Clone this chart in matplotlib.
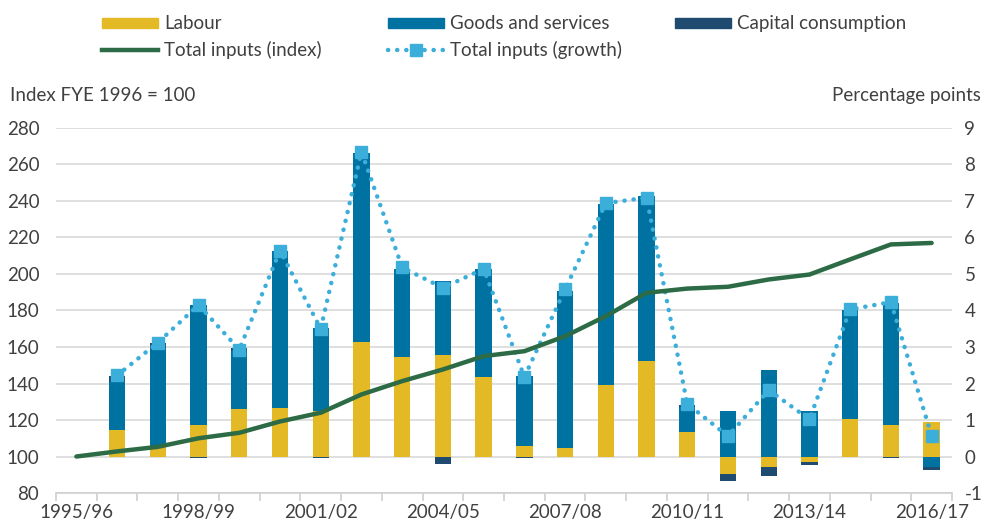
import matplotlib
matplotlib.use("Agg")
import matplotlib.pyplot as plt
import numpy as np
from matplotlib.lines import Line2D
from matplotlib.patches import Patch
from matplotlib.ticker import FuncFormatter

plt.rcParams['font.family'] = ['Lato', 'DejaVu Sans']

# Financial years (index line starts in 1995/96, bars from 1996/97)
years = ['1995/96', '1996/97', '1997/98', '1998/99', '1999/00', '2000/01', '2001/02',
         '2002/03', '2003/04', '2004/05', '2005/06', '2006/07', '2007/08', '2008/09',
         '2009/10', '2010/11', '2011/12', '2012/13', '2013/14', '2014/15', '2015/16',
         '2016/17']

# Contributions to growth, percentage points (1996/97 onwards)
labour = [0.72, 0.28, 0.86, 1.30, 1.33, 1.24, 3.13, 2.73, 2.78, 2.17, 0.28,
          0.24, 1.95, 2.61, 0.68, -0.47, -0.28, -0.16, 1.03, 0.86, 0.94]
goods = [1.33, 2.68, 3.30, 1.60, 4.29, 2.29, 5.19, 2.42, 2.04, 2.98, 1.92,
         4.29, 4.98, 4.52, 0.67, 1.24, 2.38, 1.24, 2.98, 3.35, -0.28]
capital = [0.15, 0.14, -0.03, 0.06, 0.0, -0.03, 0.0, 0.0, -0.20, 0.0, -0.03,
           0.0, 0.0, 0.0, 0.05, -0.21, -0.26, -0.08, 0.0, -0.03, -0.09]
growth = [2.22, 3.12, 4.15, 2.93, 5.64, 3.50, 8.35, 5.18, 4.62, 5.14, 2.18,
          4.58, 6.94, 7.09, 1.44, 0.56, 1.82, 1.02, 4.03, 4.23, 0.57]

# Total inputs index, FYE 1996 = 100
index = [100.0, 102.8, 105.3, 110.0, 113.0, 119.2, 124.0, 134.0, 141.3, 147.7, 155.0,
         157.7, 165.9, 176.9, 189.7, 192.0, 193.0, 197.0, 199.7, 208.0, 216.2, 217.0]

C_LAB = '#E3B925'
C_GOODS = '#0072A1'
C_CAP = '#1F4B70'
C_INDEX = '#2C6B45'
C_GROWTH = '#3BAEDA'
TXT = '#404040'
FS = 13.5

fig = plt.figure(figsize=(9.86, 5.26), dpi=100)
ax = fig.add_axes([0.0568, 0.0627, 0.9087, 0.694])
ax2 = ax.twinx()

x = np.arange(len(years))
xb = x[1:]
width = 0.4

# stack positives upwards and negatives downwards
pos = np.zeros(len(xb))
neg = np.zeros(len(xb))
for vals, col in [(labour, C_LAB), (goods, C_GOODS), (capital, C_CAP)]:
    v = np.array(vals)
    bottom = np.where(v >= 0, pos, neg)
    ax.bar(xb, v, width, bottom=bottom, color=col, zorder=2)
    pos = pos + np.clip(v, 0, None)
    neg = neg + np.clip(v, None, 0)

ax.plot(xb, growth, color=C_GROWTH, linestyle=(0, (0.05, 2.0)), linewidth=3.2,
        dash_capstyle='round', marker='s', markersize=9, zorder=3)

ax2.plot(x, index, color=C_INDEX, linewidth=3.2, solid_capstyle='round', zorder=4)

# scales
ax.set_xlim(-0.5, len(years) - 0.5)
ax.set_ylim(-1, 9)
ax2.set_ylim(80, 280)
ax.set_yticks(range(-1, 10))
ax2.set_yticks(range(80, 281, 20))
ax.yaxis.set_major_formatter(FuncFormatter(lambda v, p: '%d' % v))

ax.yaxis.tick_right()
ax2.yaxis.tick_left()
ax.tick_params(axis='y', length=0, pad=9, labelsize=FS, labelcolor=TXT)
ax2.tick_params(axis='y', length=0, pad=12, labelsize=FS, labelcolor=TXT)

ax.set_xticks(x[::3])
ax.set_xticklabels(years[::3])
ax.set_xticks(np.arange(len(years) + 1) - 0.5, minor=True)
ax.tick_params(axis='x', which='major', length=0, pad=8, labelsize=FS, labelcolor=TXT)
ax.tick_params(axis='x', which='minor', length=6, color='#D0D0D0', width=1.2)

ax.grid(axis='y', color='#D9D9D9', linewidth=1.2, zorder=0)
ax.set_axisbelow(True)
for a in (ax, ax2):
    for s in ('top', 'left', 'right'):
        a.spines[s].set_visible(False)
    a.spines['bottom'].set_color('#D0D0D0')
    a.spines['bottom'].set_linewidth(1.2)
ax2.spines['bottom'].set_visible(False)

fig.text(0.010, 0.818, 'Index FYE 1996 = 100', fontsize=FS, color=TXT, va='center')
fig.text(0.995, 0.818, 'Percentage points', fontsize=FS, color=TXT, va='center', ha='right')

# legend: three columns placed separately
growth_handle = Line2D([], [], color=C_GROWTH, linestyle=(0, (0.05, 2.0)), linewidth=3.2,
                       dash_capstyle='round', marker='s', markersize=9)
columns = [
    ([Patch(color=C_LAB), Line2D([], [], color=C_INDEX, linewidth=3.2)],
     ['Labour', 'Total inputs (index)'], 0.086),
    ([Patch(color=C_GOODS), growth_handle],
     ['Goods and services', 'Total inputs (growth)'], 0.376),
    ([Patch(color=C_CAP)], ['Capital consumption'], 0.667),
]
for hs, ls, xpos in columns:
    leg = fig.legend(hs, ls, loc='upper left', bbox_to_anchor=(xpos, 1.003),
                     frameon=False, fontsize=FS, labelcolor=TXT, handlelength=3.0,
                     handleheight=0.45, handletextpad=0.35, labelspacing=0.45,
                     numpoints=1)

fig.savefig('out.png', dpi=100)
